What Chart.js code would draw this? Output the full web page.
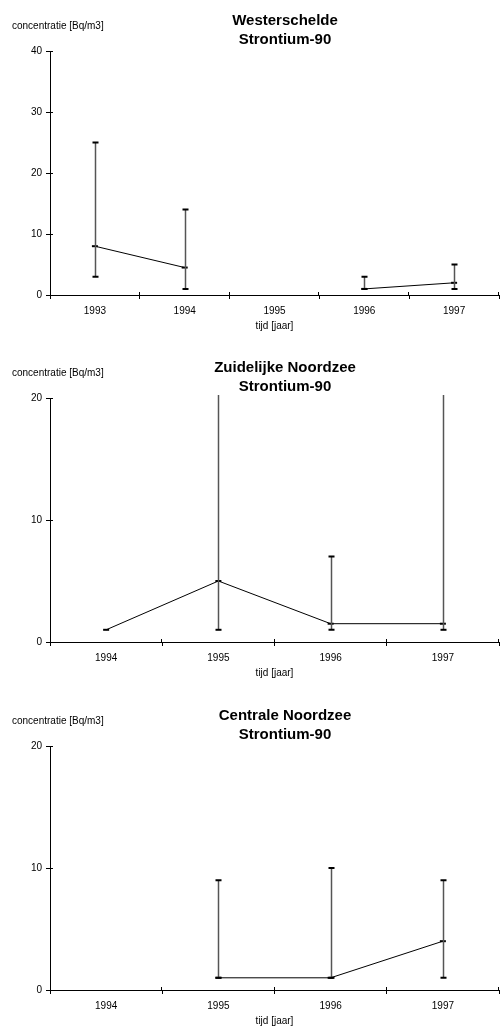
<!DOCTYPE html>
<html>
<head>
<meta charset="utf-8">
<script src="https://cdn.jsdelivr.net/npm/chart.js@4"></script>
<style>
  html, body { margin: 0; background: #fff; overflow: hidden; }
  .box { position: absolute; left: 0; width: 500px; height: 335px; }
  canvas { display: block; }
</style>
</head>
<body>
<div class="box" style="top:0px"><canvas id="c1" width="500" height="335"></canvas></div>
<div class="box" style="top:347px"><canvas id="c2" width="500" height="335"></canvas></div>
<div class="box" style="top:695px"><canvas id="c3" width="500" height="335"></canvas></div>
<script>
// Westerschelde
const years1 = ['1993', '1994', '1995', '1996', '1997'];
const mean1 = [8, 4.5, null, 1, 2];
const low1 = [3, 1, null, 1, 1];
const high1 = [25, 14, null, 3, 5];

// Zuidelijke Noordzee
const years2 = ['1994', '1995', '1996', '1997'];
const mean2 = [1, 5, 1.5, 1.5];
const low2 = [null, 1, 1, 1];
const high2 = [null, 25, 7, 25];

// Centrale Noordzee
const years3 = ['1994', '1995', '1996', '1997'];
const mean3 = [null, 1, 1, 4];
const low3 = [null, 1, 1, 1];
const high3 = [null, 9, 10, 9];

const FONT = '"Liberation Sans", Arial, sans-serif';

// error bars + inner tick stubs + texts
const extras = {
  id: 'extras',
  afterDatasetsDraw(chart) {
    const o = chart.options.plugins.extras;
    const ctx = chart.ctx, a = chart.chartArea;
    const xs = chart.scales.x, ys = chart.scales.y;
    ctx.save();
    o.low.forEach((lo, i) => {
      const hi = o.high[i];
      if (lo == null || hi == null) return;
      const x = Math.round(xs.getPixelForValue(i)) + 0.5;
      const yLo = ys.getPixelForValue(lo);
      const yHi = ys.getPixelForValue(hi);
      const top = Math.max(yHi, a.top - 3);
      ctx.strokeStyle = '#555';
      ctx.lineWidth = 1.5;
      ctx.beginPath();
      ctx.moveTo(x, yLo);
      ctx.lineTo(x, top);
      ctx.stroke();
      ctx.strokeStyle = '#000';
      ctx.lineWidth = 2;
      ctx.beginPath();
      ctx.moveTo(x - 3, yLo); ctx.lineTo(x + 3, yLo);
      if (yHi >= a.top) { ctx.moveTo(x - 3, yHi); ctx.lineTo(x + 3, yHi); }
      ctx.stroke();
    });
    ctx.restore();
  },
  afterDraw(chart) {
    const o = chart.options.plugins.extras;
    const ctx = chart.ctx, a = chart.chartArea;
    const ys = chart.scales.y;
    ctx.save();
    ctx.strokeStyle = '#000';
    ctx.lineWidth = 1;
    ctx.beginPath();
    const n = chart.data.labels.length;
    const w = (a.right - a.left) / n;
    for (let k = 1; k <= n; k++) {
      const x = Math.round(a.left + k * w) - 0.5;
      ctx.moveTo(x, a.bottom);
      ctx.lineTo(x, a.bottom - 3);
    }
    ys.ticks.forEach(t => {
      const y = Math.round(ys.getPixelForValue(t.value)) + 0.5;
      ctx.moveTo(a.left, y);
      ctx.lineTo(a.left + 3, y);
    });
    ctx.stroke();

    ctx.fillStyle = '#000';
    ctx.textAlign = 'center';
    ctx.textBaseline = 'middle';
    ctx.font = 'bold 15px ' + FONT;
    ctx.fillText(o.title[0], 285, 21);
    ctx.fillText(o.title[1], 285, 40);
    ctx.font = '10px ' + FONT;
    ctx.fillText('tijd [jaar]', (a.left + a.right) / 2, 326);
    ctx.textAlign = 'left';
    ctx.fillText('concentratie [Bq/m3]', 12, 26);
    ctx.restore();
  }
};

function makeChart(id, labels, mean, low, high, yMax, title) {
  return new Chart(document.getElementById(id), {
    type: 'line',
    data: {
      labels: labels,
      datasets: [{
        data: mean,
        borderColor: '#000',
        borderWidth: 1,
        pointStyle: 'line',
        pointRadius: 3,
        pointBorderWidth: 2,
        pointBorderColor: '#000',
        spanGaps: false,
        tension: 0
      }]
    },
    options: {
      responsive: false,
      animation: false,
      layout: { autoPadding: false, padding: { top: 51, right: 1, left: 0, bottom: 0 } },
      plugins: {
        legend: { display: false },
        tooltip: { enabled: false },
        extras: { low: low, high: high, title: title }
      },
      scales: {
        x: {
          type: 'category',
          offset: true,
          afterFit: s => { s.height = 40; },
          grid: { offset: true, drawOnChartArea: false, tickLength: 4, color: '#000' },
          border: { color: '#000', width: 1 },
          ticks: { color: '#000', font: { family: FONT, size: 10 }, padding: 6, maxRotation: 0 }
        },
        y: {
          min: 0,
          max: yMax,
          afterFit: s => { s.width = 50; },
          grid: { drawOnChartArea: false, tickLength: 4, color: '#000' },
          border: { color: '#000', width: 1 },
          ticks: { stepSize: 10, color: '#000', font: { family: FONT, size: 10 }, padding: 4 }
        }
      }
    },
    plugins: [extras]
  });
}

makeChart('c1', years1, mean1, low1, high1, 40, ['Westerschelde', 'Strontium-90']);
makeChart('c2', years2, mean2, low2, high2, 20, ['Zuidelijke Noordzee', 'Strontium-90']);
makeChart('c3', years3, mean3, low3, high3, 20, ['Centrale Noordzee', 'Strontium-90']);
</script>
</body>
</html>
